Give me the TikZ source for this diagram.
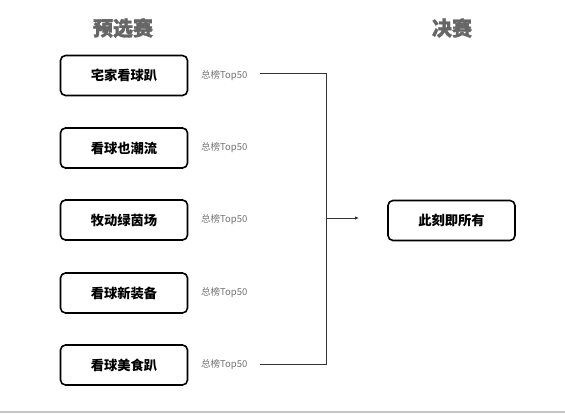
\documentclass[tikz,border=0pt]{standalone}
\usepackage{fontspec}
\newfontfamily\cjk{Noto Sans CJK SC}
\newfontfamily\cjkheavy{Noto Sans CJK SC}[BoldFeatures={FakeBold=1.5}]
\usetikzlibrary{arrows.meta}
\begin{document}
\begin{tikzpicture}[x=1pt,y=-1pt,
  stagebox/.style={draw=black,line width=1.6pt,rounded corners=5pt,minimum width=127pt,minimum height=40pt,inner sep=0pt,font=\cjk\bfseries\fontsize{13.3}{13.3}\selectfont},
  ranklabel/.style={inner sep=0pt,text=black!55,font=\cjk\fontsize{9.5}{9.5}\selectfont},
  titletext/.style={inner sep=0pt,text=black!60,font=\cjkheavy\bfseries\fontsize{20}{20}\selectfont},
  link/.style={draw=black!80,line width=0.8pt}]
\useasboundingbox (0,0) rectangle (565,413);
\fill[white] (0,0) rectangle (565,413);
\draw[black!22,line width=1.5pt] (0,412) -- (565,412);
\node[titletext] (h1) at (123,28) {预选赛};
\node[titletext] (h2) at (452,28) {决赛};
\node[stagebox] (b1) at (124,75.5) {宅家看球趴};
\node[stagebox] (b2) at (124,148) {看球也潮流};
\node[stagebox] (b3) at (124,220) {牧动绿茵场};
\node[stagebox] (b4) at (124,293) {看球新装备};
\node[stagebox] (b5) at (124,365) {看球美食趴};
\node[stagebox] (f) at (451.5,220.5) {此刻即所有};
\node[ranklabel,anchor=west] (t1) at (201,76) {总榜Top50};
\node[ranklabel,anchor=west] (t2) at (201,148) {总榜Top50};
\node[ranklabel,anchor=west] (t3) at (201,220) {总榜Top50};
\node[ranklabel,anchor=west] (t4) at (201,293) {总榜Top50};
\node[ranklabel,anchor=west] (t5) at (201,365) {总榜Top50};
\coordinate (s1) at (260,73);
\coordinate (s5) at (260,364);
\coordinate (j1) at (326,73);
\coordinate (j5) at (326,364);
\coordinate (jm) at (326,218);
\coordinate (e) at (359,218);
\draw[link] (s1) -- (j1) -- (j5) -- (s5);
\draw[link,-{Latex[length=4pt,width=3.5pt]}] (jm) -- (e);
\end{tikzpicture}
\end{document}
